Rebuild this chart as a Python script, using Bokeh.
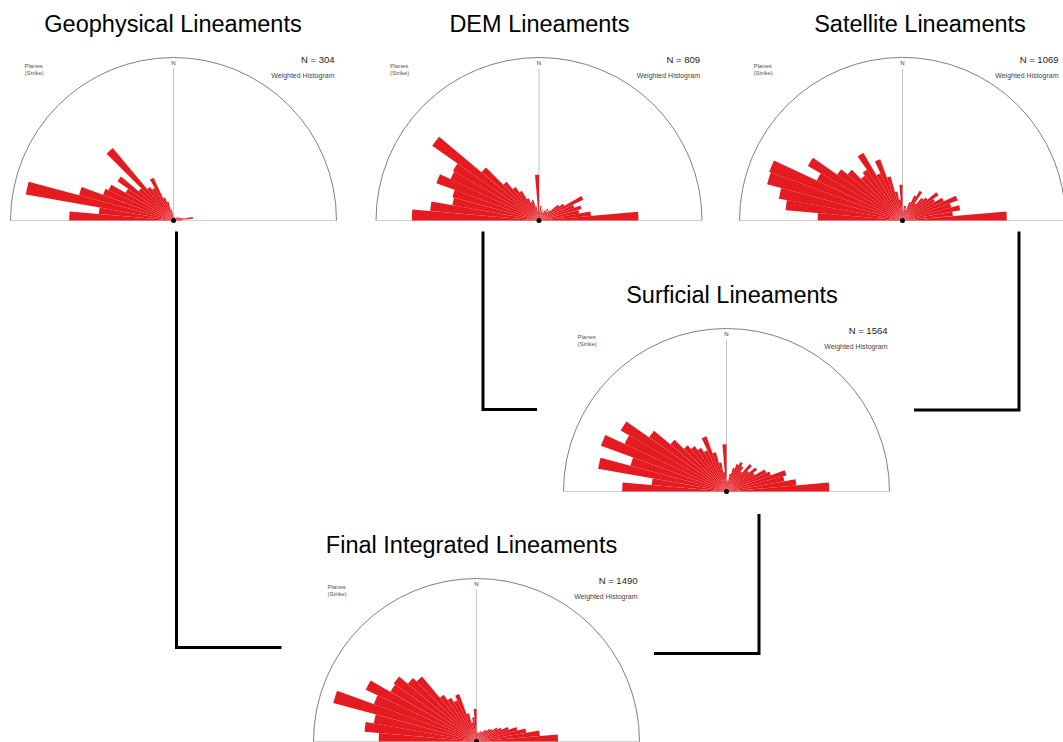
import numpy as np
from bokeh.plotting import figure
from bokeh.models import Range1d, ColumnDataSource
from bokeh.core.properties import value
from bokeh.embed import file_html
from bokeh.resources import INLINE

# ---------------- data ----------------
titles = ["Geophysical Lineaments", "DEM Lineaments", "Satellite Lineaments",
          "Surficial Lineaments", "Final Integrated Lineaments"]
counts = [304, 809, 1069, 1564, 1490]
bin_width = 5  # degrees

# bar length (% of outer circle), strike bins 270-275 ... 355-360 (NW quadrant)
geo_nw = [64, 46, 92, 60, 46, 44, 34, 42, 28, 58, 25, 23, 29, 15, 12, 7, 5, 3]
# strike bins 0-5 ... 85-90 (NE quadrant)
geo_ne = [2, 2, 2, 2, 2, 2, 2, 2, 3, 2, 3, 4, 3, 4, 5, 6, 12, 5]

dem_nw = [78, 67, 54, 55, 67, 60, 61, 80, 46, 31, 25, 21, 15, 12, 13, 9, 6, 28]
dem_ne = [5, 9, 6, 7, 5, 6, 7, 9, 7, 9, 15, 18, 30, 23, 27, 25, 32, 61]

sat_nw = [52, 72, 77, 86, 87, 58, 67, 49, 44, 36, 38, 48, 32, 40, 28, 18, 13, 22]
sat_ne = [5, 9, 9, 7, 12, 17, 21, 13, 18, 20, 27, 23, 28, 36, 31, 36, 31, 64]

surf_nw = [64, 46, 80, 61, 82, 69, 75, 58, 45, 37, 34, 31, 28, 36, 25, 18, 12, 29]
surf_ne = [6, 7, 11, 15, 18, 20, 18, 15, 22, 18, 23, 20, 27, 29, 38, 36, 43, 63]

final_nw = [60, 69, 64, 91, 67, 75, 61, 62, 55, 52, 35, 31, 28, 31, 18, 12, 15, 20]
final_ne = [5, 6, 5, 6, 7, 6, 7, 9, 9, 11, 12, 15, 17, 21, 26, 31, 39, 50]

nw_series = [geo_nw, dem_nw, sat_nw, surf_nw, final_nw]
ne_series = [geo_ne, dem_ne, sat_ne, surf_ne, final_ne]

# ---------------- layout (reference-image pixels, 1063 x 742) ----------------
PAGE_W, PAGE_H = 1063, 742
R = 163
centres = [(173, 220), (538.5, 220), (902, 220), (726, 491), (476, 741)]
title_pos = [(172.5, 31.5), (539, 31.5), (919.5, 31.5), (731.5, 302.5), (471, 552.5)]
label_right = [cx + 161 for cx, _ in centres]
label_right[2] = PAGE_W - 5          # keep the right-most labels inside the page
connectors = [
    ([176, 176, 281], [231, 647, 647]),
    ([482.5, 482.5, 536.5], [231, 409, 409]),
    ([1018.5, 1018.5, 913.5], [231, 409.5, 409.5]),
    ([758.5, 758.5, 653.5], [513.5, 653, 653]),
]

RED = "#e41c22"
FONT = "Liberation Sans"
SHIFT = 0.34   # baseline correction (fraction of font size)

W, H = PAGE_W, PAGE_H
p = figure(width=W, height=H, x_range=Range1d(0, PAGE_W), y_range=Range1d(-PAGE_H, 0),
           output_backend="svg", toolbar_location=None,
           x_axis_type=None, y_axis_type=None, min_border=0)
p.outline_line_color = None
p.background_fill_color = "white"
p.border_fill_color = "white"
p.xgrid.visible = False
p.ygrid.visible = False

def Y(py):
    return -py

# rose bars
xs, ys, rs, a0s, a1s = [], [], [], [], []
for (cx, cy), nw, ne in zip(centres, nw_series, ne_series):
    for i, v in enumerate(nw):
        az = 270 + bin_width * i
        th1 = 90 - az + 360
        xs.append(cx); ys.append(Y(cy)); rs.append(v / 100 * R)
        a0s.append(np.radians(th1 - bin_width)); a1s.append(np.radians(th1))
    for j, v in enumerate(ne):
        az = bin_width * j
        th1 = 90 - az
        xs.append(cx); ys.append(Y(cy)); rs.append(v / 100 * R)
        a0s.append(np.radians(th1 - bin_width)); a1s.append(np.radians(th1))

cxs = [c[0] for c in centres]
cys = [Y(c[1]) for c in centres]
p.segment(x0=[c - R for c in cxs], y0=cys, x1=[c + R for c in cxs], y1=cys,
          line_color="#cfcfcf", line_width=1)
p.segment(x0=cxs, y0=cys, x1=cxs, y1=[c + 152 for c in cys],
          line_color="#c4c4c4", line_width=1)
p.arc(x=cxs, y=cys, radius=R, start_angle=0, end_angle=np.pi,
      line_color="#808080", line_width=1)

src = ColumnDataSource(dict(x=xs, y=ys, r=rs, a0=a0s, a1=a1s))
p.wedge(x="x", y="y", radius="r", start_angle="a0", end_angle="a1",
        fill_color=RED, line_color=None, source=src)
p.scatter(x=cxs, y=cys, size=5, marker="circle", fill_color="black", line_color=None)

def label(x, y, text, size, align, color):
    p.text(x=x, y=[v + SHIFT * size for v in y], text=text, text_font=value(FONT),
           text_font_size=value(f"{size}px"), text_align=align,
           text_baseline="alphabetic", text_color=color)

# texts inside diagrams
label(label_right, [c + 158 for c in cys], [f"N = {n}" for n in counts], 9.5, "right", "#222222")
label(label_right, [c + 143 for c in cys], ["Weighted Histogram"] * 5, 7, "right", "#444444")
label([c - 149 for c in cxs], [c + 152 for c in cys], ["Planes"] * 5, 6, "left", "#555555")
label([c - 149 for c in cxs], [c + 145 for c in cys], ["(Strike)"] * 5, 6, "left", "#555555")
label(cxs, [c + 155 for c in cys], ["N"] * 5, 6, "center", "#333333")

# titles
label([t[0] for t in title_pos], [Y(t[1]) for t in title_pos], titles, 23.5, "center", "black")

# connectors
p.multi_line(xs=[c[0] for c in connectors], ys=[[Y(v) for v in c[1]] for c in connectors],
             line_color="black", line_width=3, line_join="miter")

open("out.html", "w").write(file_html(p, INLINE))
